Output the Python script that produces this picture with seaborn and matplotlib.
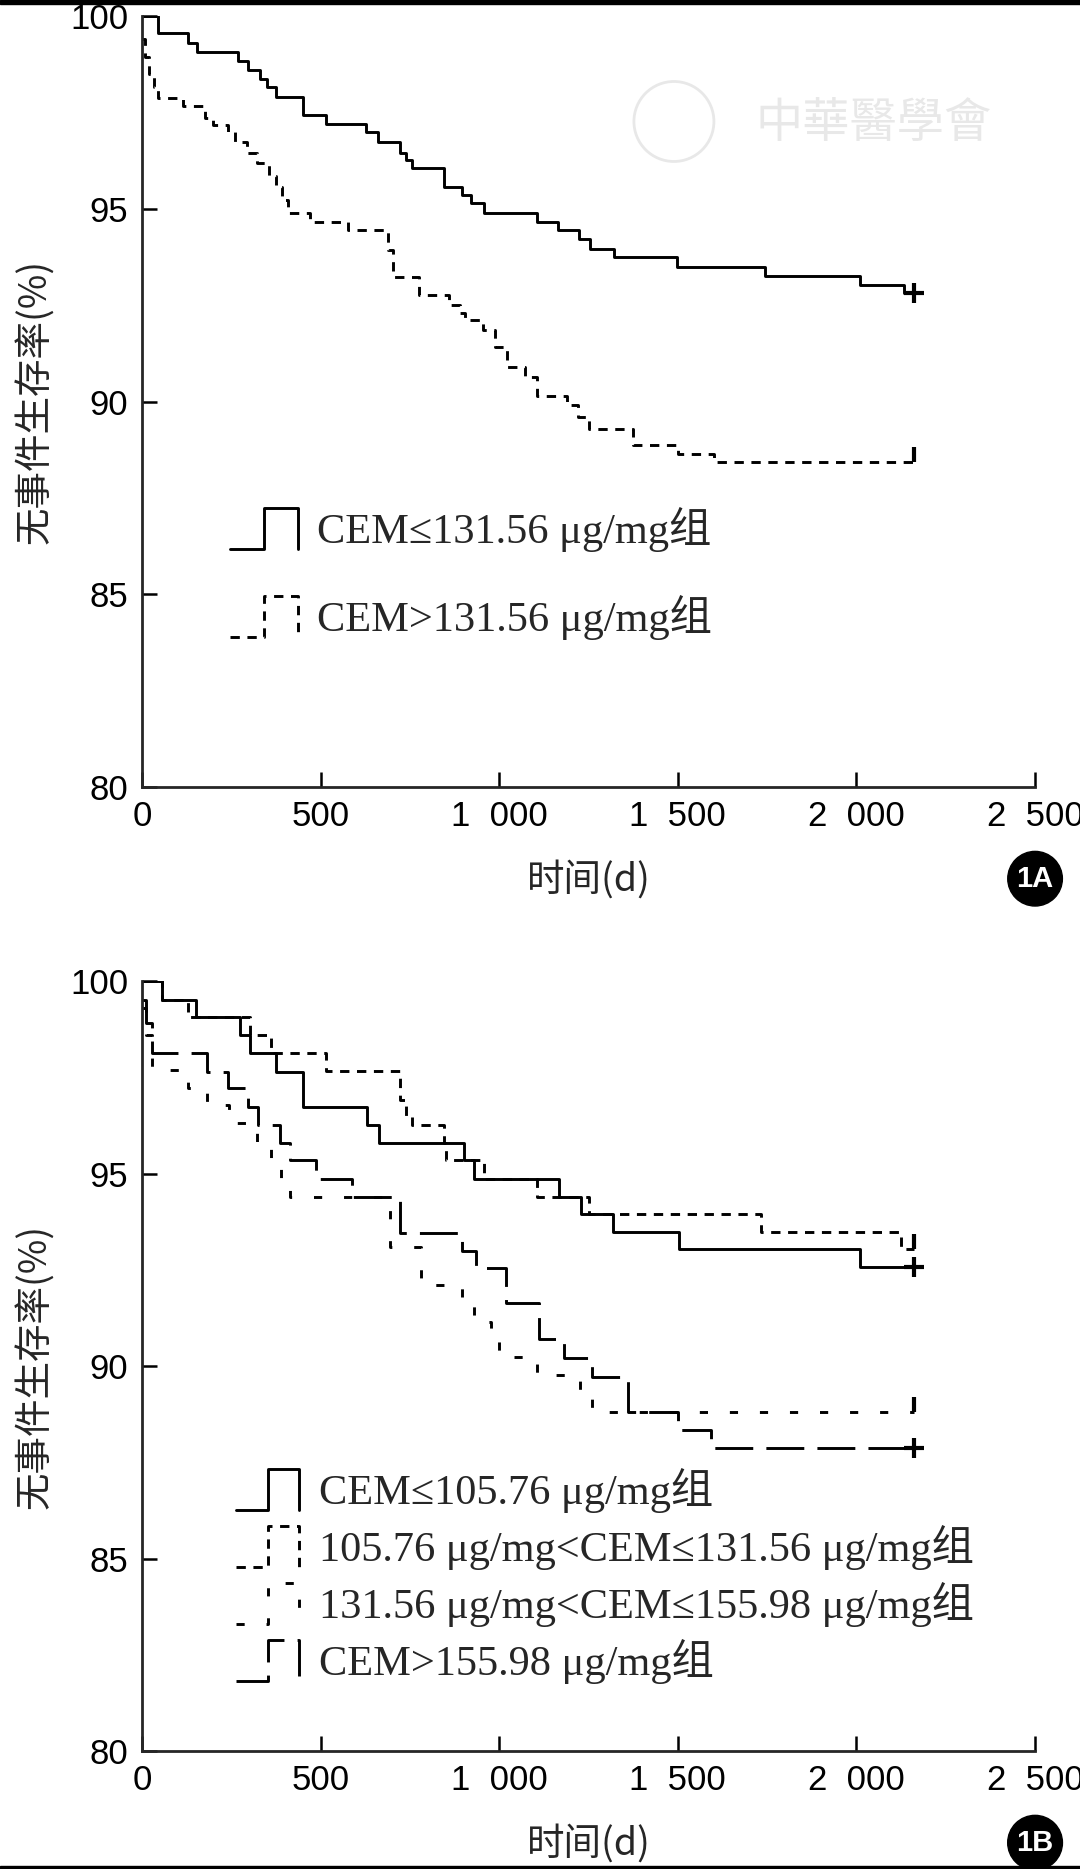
import numpy as np
import pandas as pd
import matplotlib
matplotlib.use("Agg")
import matplotlib.pyplot as plt
import seaborn as sns
from matplotlib.lines import Line2D
from matplotlib.patches import Rectangle, Ellipse
from matplotlib.legend_handler import HandlerBase
from matplotlib.font_manager import FontProperties

# ---- data (days, event-free survival %) ----
a_low_days = [0, 46, 128, 155, 268, 298, 330, 350, 375, 450, 515, 626, 660, 722, 740, 757,
              844, 896, 920, 958, 1106, 1164, 1222, 1255, 1321, 1499, 1744, 2011, 2132, 2160]
a_low_vals = [100, 99.55, 99.29, 99.07, 98.84, 98.6, 98.38, 98.17, 97.91, 97.43, 97.2, 97.0,
              96.74, 96.44, 96.26, 96.05, 95.57, 95.36, 95.14, 94.88, 94.66, 94.45, 94.21,
              93.97, 93.74, 93.5, 93.26, 93.02, 92.81, 92.81]

a_high_days = [0, 8, 20, 34, 46, 114, 177, 200, 240, 259, 293, 322, 355, 375, 393, 408, 471,
               578, 689, 703, 775, 858, 890, 905, 954, 988, 1021, 1072, 1105, 1190, 1220,
               1251, 1375, 1500, 1600, 2160]
a_high_vals = [99.4, 98.94, 98.5, 98.17, 97.87, 97.67, 97.35, 97.17, 97.0, 96.74, 96.45,
               96.18, 95.85, 95.57, 95.23, 94.88, 94.66, 94.45, 93.93, 93.24, 92.76, 92.5,
               92.3, 92.11, 91.85, 91.42, 90.9, 90.64, 90.15, 89.9, 89.6, 89.29, 88.86,
               88.64, 88.42, 88.42]

b1_days = [0, 56, 151, 273, 303, 375, 452, 631, 664, 901, 930, 1168, 1230, 1318, 1503, 2009, 2160]
b1_vals = [100, 99.52, 99.06, 98.6, 98.14, 97.64, 96.74, 96.26, 95.8, 95.35, 94.86, 94.4,
           93.95, 93.49, 93.03, 92.56, 92.56]

b2_days = [0, 56, 129, 303, 362, 515, 722, 740, 757, 844, 852, 958, 1106, 1250, 1733, 2126, 2160]
b2_vals = [100, 99.52, 99.06, 98.6, 98.14, 97.66, 96.9, 96.5, 96.26, 95.8, 95.35, 94.86,
           94.4, 93.95, 93.49, 93.05, 93.05]

b3_days = [0, 10, 27, 129, 182, 244, 322, 360, 389, 413, 693, 780, 896, 928, 978, 1000,
           1106, 1225, 1261, 2160]
b3_vals = [99.3, 98.6, 97.7, 97.21, 96.78, 96.3, 95.83, 95.35, 94.86, 94.4, 93.1, 92.1,
           91.63, 91.15, 90.7, 90.24, 89.77, 89.29, 88.81, 88.81]

b4_days = [0, 10, 27, 182, 240, 297, 325, 385, 413, 486, 587, 722, 896, 935, 1018, 1110,
           1181, 1261, 1360, 1500, 1593, 2160]
b4_vals = [99.5, 98.9, 98.12, 97.64, 97.21, 96.74, 96.26, 95.8, 95.35, 94.86, 94.38, 93.45,
           93.0, 92.54, 91.63, 90.7, 90.2, 89.72, 88.81, 88.34, 87.86, 87.86]

labels_a = ["CEM≤131.56 μg/mg组", "CEM>131.56 μg/mg组"]
labels_b = ["CEM≤105.76 μg/mg组", "105.76 μg/mg<CEM≤131.56 μg/mg组",
            "131.56 μg/mg<CEM≤155.98 μg/mg组", "CEM>155.98 μg/mg组"]

x_ticks = [0, 500, 1000, 1500, 2000, 2500]
x_ticklabels = ["0", "500", "1  000", "1  500", "2  000", "2  500"]
y_ticks = [80, 85, 90, 95, 100]

# line styles (dash lengths in linewidth units)
SOLID = "-"
SHORT = (0, (3.2, 2.6))
SPARSE = (0, (2.8, 7.5))
LONG = (0, (13, 4.5))


class PulseHandler(HandlerBase):
    # legend glyph shaped like a small step pulse, as in the original figure
    def create_artists(self, legend, orig_handle, xdescent, ydescent,
                       width, height, fontsize, trans):
        x0, x1 = -xdescent, width - xdescent
        y0, y1 = -ydescent, height - ydescent
        xm = x0 + 0.5 * (x1 - x0)
        line = Line2D([x0, xm, xm, x1, x1], [y0, y0, y1, y1, y0])
        line.update_from(orig_handle)
        line.set_marker("None")
        line.set_transform(trans)
        return [line]


sns.set_style("ticks")
plt.rcParams["font.family"] = ["Liberation Sans", "Noto Sans CJK SC", "DejaVu Sans"]
plt.rcParams["axes.linewidth"] = 2.0

cjk = ["Noto Sans CJK SC", "DejaVu Sans"]
legend_font = FontProperties(family=["Liberation Serif", "Noto Sans CJK SC"], size=30.5)

fig = plt.figure(figsize=(10.8, 18.69), dpi=100)
ax_a = fig.add_axes([0.1315, 0.5789, 0.8269, 0.4125])
ax_b = fig.add_axes([0.1315, 0.0631, 0.8269, 0.4120])


def km_line(ax, days, vals, style, end_marker):
    df = pd.DataFrame({"day": days, "rate": vals})
    sns.lineplot(data=df, x="day", y="rate", ax=ax, color="black", linewidth=2.1,
                 linestyle=style, drawstyle="steps-post", sort=False, estimator=None,
                 marker=end_marker, markevery=[len(days) - 1],
                 markersize=15 if end_marker == "+" else 11,
                 markeredgewidth=3, markeredgecolor="black")
    return ax.lines[-1]


def style_axis(ax, tag):
    ax.set_xlim(0, 2500)
    ax.set_ylim(80, 100)
    sns.despine(ax=ax)
    ax.spines["left"].set_linewidth(2.0)
    ax.spines["bottom"].set_linewidth(2.0)
    ax.set_xticks(x_ticks)
    ax.set_xticklabels(x_ticklabels)
    ax.set_yticks(y_ticks)
    ax.tick_params(axis="both", direction="in", length=11, width=1.8, labelsize=25,
                   colors="black")
    ax.tick_params(axis="x", pad=9)
    ax.tick_params(axis="y", pad=10)
    ax.set_xlabel("时间(d)", fontsize=27, family=cjk, labelpad=20)
    ax.set_ylabel("无事件生存率(%)", fontsize=27, family=cjk, labelpad=11)
    ax.annotate(tag, xy=(1, 0), xycoords="axes fraction", xytext=(0, -66),
                textcoords="offset points", ha="center", va="center", color="white",
                fontsize=21, fontweight="bold", family=["Liberation Sans"],
                bbox=dict(boxstyle="circle,pad=0.3", fc="black", ec="black"))


# ---- panel A ----
h1 = km_line(ax_a, a_low_days, a_low_vals, SOLID, "+")
h2 = km_line(ax_a, a_high_days, a_high_vals, SHORT, 2)
style_axis(ax_a, "1A")
ax_a.legend([h1, h2], labels_a, loc="upper left", bbox_to_anchor=(0.0985, 0.363),
            frameon=False, handler_map={Line2D: PulseHandler()}, prop=legend_font,
            handlelength=1.6, handleheight=1.12, handletextpad=0.46, labelspacing=1.0,
            borderpad=0, borderaxespad=0)

# ---- panel B ----
g1 = km_line(ax_b, b1_days, b1_vals, SOLID, "+")
g2 = km_line(ax_b, b2_days, b2_vals, SHORT, 2)
g3 = km_line(ax_b, b3_days, b3_vals, SPARSE, 2)
g4 = km_line(ax_b, b4_days, b4_vals, LONG, "+")
style_axis(ax_b, "1B")
ax_b.legend([g1, g2, g3, g4], labels_b, loc="upper left", bbox_to_anchor=(0.105, 0.3675),
            frameon=False, handler_map={Line2D: PulseHandler()}, prop=legend_font,
            handlelength=1.5, handleheight=1.12, handletextpad=0.46, labelspacing=0.28,
            borderpad=0, borderaxespad=0)

# faint publisher watermark
fig.text(0.809, 0.934, "中華醫學會", fontsize=34, color="#e8e8e8", ha="center", va="center",
         family=["Noto Sans CJK TC"], style="italic")
fig.add_artist(Ellipse((0.624, 0.935), 80 / 1080, 80 / 1869, transform=fig.transFigure,
                       fill=False, ec="#e8e8e8", lw=2))

# thin black border strips at top and bottom of the scan
fig.add_artist(Rectangle((0, 1 - 4 / 1869), 1, 4 / 1869, transform=fig.transFigure,
                         color="black", zorder=10))
fig.add_artist(Rectangle((0, 0), 1, 3 / 1869, transform=fig.transFigure,
                         color="black", zorder=10))

fig.savefig("out.png", dpi=100, facecolor="white")
